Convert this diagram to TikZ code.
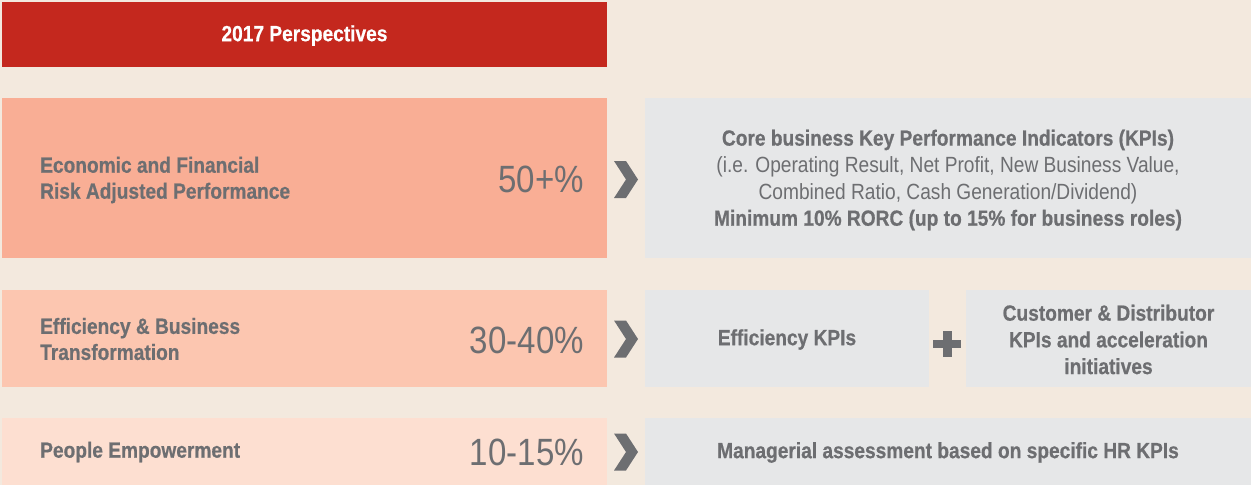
\documentclass[tikz,border=0pt]{standalone}
\usepackage{fontspec}
\setmainfont{Liberation Sans}[FakeStretch=0.87, BoldFeatures={FakeBold=0.6}]
\definecolor{bgc}{RGB}{243,233,222}
\definecolor{hdrc}{RGB}{196,40,30}
\definecolor{rowa}{RGB}{249,174,149}
\definecolor{rowb}{RGB}{252,198,176}
\definecolor{rowc}{RGB}{253,223,209}
\definecolor{greyc}{RGB}{230,231,232}
\definecolor{txtc}{RGB}{109,110,113}
\tikzset{
  panel/.style={anchor=north west, inner sep=0pt, outer sep=0pt, draw=none},
  labeltxt/.style={text=txtc, font=\bfseries\fontsize{22}{26}\selectfont, align=left, inner sep=0pt},
  pcttxt/.style={text=txtc, font=\fontsize{38}{40}\selectfont, inner sep=0pt, anchor=east},
  kpibold/.style={text=txtc, font=\bfseries\fontsize{22}{26.7}\selectfont, align=center, inner sep=0pt},
  chev/.style={fill=txtc},
}
\begin{document}
\begin{tikzpicture}[x=1pt,y=-1pt]
\fill[bgc] (0,0) rectangle (1251,485);
\useasboundingbox (0,0) rectangle (1251,485);
% header
\node[panel, fill=hdrc, minimum width=605pt, minimum height=65pt] (hdr) at (2,2) {};
\node[text=white, font=\bfseries\fontsize{22}{26}\selectfont, inner sep=0pt] (hdrt) at ([yshift=-1pt]hdr.center) {2017 Perspectives};
% left panels
\node[panel, fill=rowa, minimum width=605pt, minimum height=160pt] (la) at (2,98) {};
\node[panel, fill=rowb, minimum width=605pt, minimum height=97pt] (lb) at (2,290) {};
\node[panel, fill=rowc, minimum width=605pt, minimum height=67pt] (lc) at (2,418) {};
% right panels
\node[panel, fill=greyc, minimum width=606pt, minimum height=160pt] (ra) at (645,98) {};
\node[panel, fill=greyc, minimum width=284pt, minimum height=97pt] (rb) at (645,290) {};
\node[panel, fill=greyc, minimum width=285pt, minimum height=97pt] (rc) at (966,290) {};
\node[panel, fill=greyc, minimum width=606pt, minimum height=67pt] (rd) at (645,418) {};
% left labels
\node[labeltxt, anchor=west] (lat) at (40,180) {Economic and Financial\\Risk Adjusted Performance};
\node[labeltxt, anchor=west] (lbt) at (40,339) {Efficiency \& Business\\Transformation};
\node[labeltxt, anchor=west] (lct) at (40,452) {People Empowerment};
% percentages
\node[pcttxt] (pa) at (584,179) {50+\%};
\node[pcttxt] (pb) at (584,340) {30-40\%};
\node[pcttxt] (pc) at (584,452) {10-15\%};
% right texts
\node[kpibold] (rat) at ([yshift=-2pt]ra.center) {Core business Key Performance Indicators (KPIs)\\
  {\mdseries (i.e. Operating Result, Net Profit, New Business Value,}\\
  {\mdseries Combined Ratio, Cash Generation/Dividend)}\\
  Minimum 10\% RORC (up to 15\% for business roles)};
\node[kpibold] (rbt) at ([yshift=-1pt]rb.center) {Efficiency KPIs};
\node[kpibold] (rct) at ([yshift=-1pt]rc.center) {Customer \& Distributor\\KPIs and acceleration\\initiatives};
\node[kpibold] (rdt) at ([yshift=-1pt]rd.center) {Managerial assessment based on specific HR KPIs};
% chevrons
\foreach \c in {179.5,339,452}{
  \fill[chev] (614,\c-18.5) -- (626,\c-18.5) -- (638,\c) -- (626,\c+18.5) -- (614,\c+18.5) -- (626,\c) -- cycle;
}
% plus
\fill[txtc] (933,339.5) rectangle (961,348);
\fill[txtc] (942.5,331) rectangle (951.5,357);
\end{tikzpicture}
\end{document}
